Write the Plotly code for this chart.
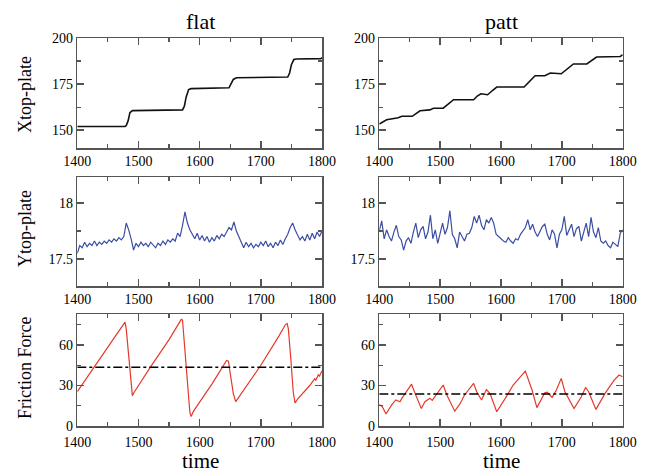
import plotly.graph_objects as go

# ---------------- data ----------------
# flat: X top-plate
flat_x_t = [1400, 1478, 1480, 1483, 1486, 1490, 1572, 1575, 1578, 1582, 1586, 1648, 1651, 1655, 1660,
            1744, 1747, 1750, 1754, 1758, 1798, 1800]
flat_x_v = [152, 152, 152.5, 155, 159.5, 160.6, 161, 163, 168, 172, 172.5, 173, 175, 177.5, 178.4,
            178.8, 181, 185.5, 188.3, 188.6, 188.8, 189.3]

# patt: X top-plate
patt_x_t = [1400, 1406, 1412, 1431, 1437, 1454, 1460, 1467, 1483, 1489, 1505, 1512, 1522, 1555, 1561,
            1567, 1578, 1586, 1593, 1638, 1647, 1656, 1672, 1681, 1699, 1710, 1719, 1741, 1750,
            1757, 1796, 1800]
patt_x_v = [153.3, 154.5, 155.6, 156.7, 157.5, 157.5, 159, 160.5, 161, 161.9, 161.9, 164, 166.5, 166.5,
            168.5, 169.7, 169.2, 171.5, 173.4, 173.4, 176.5, 179.5, 179.5, 181, 180.6, 183.5, 185.9,
            185.9, 188, 189.7, 190, 190.9]

# Y top-plate (sampled every 4 time units)
time_y = list(range(1400, 1801, 4))
flat_y_v = [17.55, 17.62, 17.60, 17.65, 17.61, 17.64, 17.62, 17.66, 17.62, 17.65, 17.63, 17.66, 17.64,
            17.67, 17.65, 17.68, 17.66, 17.69, 17.67, 17.70, 17.82, 17.76, 17.68, 17.58, 17.64, 17.61,
            17.65, 17.62, 17.64, 17.61, 17.65, 17.62, 17.60, 17.64, 17.62, 17.66, 17.63, 17.67, 17.65,
            17.68, 17.66, 17.73, 17.70, 17.80, 17.92, 17.82, 17.76, 17.72, 17.68, 17.73, 17.67, 17.71,
            17.66, 17.70, 17.65, 17.69, 17.66, 17.71, 17.68, 17.72, 17.70, 17.74, 17.78, 17.76, 17.83,
            17.75, 17.70, 17.64, 17.60, 17.65, 17.61, 17.64, 17.60, 17.63, 17.61, 17.65, 17.62, 17.66,
            17.61, 17.64, 17.60, 17.65, 17.62, 17.67, 17.63, 17.68, 17.72, 17.78, 17.82, 17.76, 17.72,
            17.67, 17.70, 17.66, 17.72, 17.67, 17.73, 17.68, 17.74, 17.70, 17.75]
patt_y_v = [17.75, 17.84, 17.68, 17.76, 17.70, 17.66, 17.74, 17.80, 17.70, 17.67, 17.58, 17.66, 17.69,
            17.64, 17.74, 17.82, 17.69, 17.76, 17.79, 17.68, 17.74, 17.89, 17.68, 17.76, 17.64, 17.72,
            17.82, 17.72, 17.78, 17.93, 17.72, 17.68, 17.60, 17.74, 17.70, 17.66, 17.72, 17.73, 17.78,
            17.88, 17.82, 17.89, 17.80, 17.76, 17.85, 17.82, 17.87, 17.82, 17.72, 17.70, 17.68, 17.66,
            17.65, 17.69, 17.66, 17.64, 17.68, 17.67, 17.72, 17.75, 17.78, 17.85, 17.76, 17.81, 17.74,
            17.70, 17.75, 17.79, 17.81, 17.72, 17.67, 17.76, 17.72, 17.60, 17.72, 17.76, 17.88, 17.71,
            17.76, 17.81, 17.70, 17.77, 17.79, 17.66, 17.74, 17.82, 17.70, 17.87, 17.74, 17.69, 17.78,
            17.66, 17.64, 17.66, 17.62, 17.60, 17.65, 17.63, 17.61, 17.73, 17.76]

# Friction force
flat_f_t = [1400, 1440, 1470, 1476, 1478, 1480, 1484, 1488, 1490, 1493, 1520, 1550, 1566, 1570, 1572,
            1575, 1580, 1584, 1586, 1590, 1620, 1640, 1644, 1647, 1650, 1655, 1659, 1662, 1700, 1730,
            1740, 1743, 1745, 1749, 1753, 1756, 1760, 1780, 1788, 1790, 1794, 1796, 1800]
flat_f_v = [25.5, 52, 72, 76.5, 77, 72, 50, 27, 22.5, 25, 44, 64, 76, 79, 78.5,
            60, 30, 10, 7, 11, 31, 45, 48.5, 48, 38, 24, 18, 20, 45, 67,
            75, 76, 72, 50, 25, 17, 20, 30, 35, 34, 38, 37, 41]
flat_f_mean = 43.5

patt_f_t = [1400, 1405, 1411, 1420, 1427, 1434, 1437, 1453, 1459, 1469, 1475, 1483, 1487, 1505, 1511,
            1524, 1533, 1540, 1555, 1560, 1568, 1576, 1582, 1590, 1593, 1607, 1620, 1640, 1651, 1659,
            1667, 1672, 1676, 1684, 1691, 1699, 1705, 1720, 1732, 1739, 1744, 1756, 1771, 1786, 1794,
            1800]
patt_f_v = [16, 14.3, 8.9, 15.5, 19.3, 18, 20.5, 31, 24, 13, 18, 20.5, 19, 30.4, 23,
            11, 16.7, 23, 31.6, 25.4, 19.3, 27, 24, 13, 10.6, 20.5, 30.4, 40.7, 26.7, 13.6,
            20.5, 24.6, 25, 21.2, 26.7, 35.3, 25.4, 13, 21.7, 28.6, 25.4, 12.3, 24.2, 34, 37.8,
            36.5]
patt_f_mean = 23.7

x_ticks = [1400, 1500, 1600, 1700, 1800]

# ---------------- figure ----------------
W, H = 646, 473
FONT = "Liberation Serif, Times New Roman, serif"
BLACK = "#111111"
BLUE = "#3b4ea3"
RED = "#e4392b"

def px_x(a, b):
    return [a / W, b / W]

def px_y(top, bottom):
    return [1 - bottom / H, 1 - top / H]

xdom = [px_x(77.3, 322), px_x(379.3, 622.7)]
ydom = [px_y(38, 148), px_y(177, 286), px_y(314, 426)]

fig = go.Figure()

panels = [
    (0, 0, flat_x_t, flat_x_v, BLACK, 1.6),
    (0, 1, patt_x_t, patt_x_v, BLACK, 1.6),
    (1, 0, time_y, flat_y_v, BLUE, 1.2),
    (1, 1, time_y, patt_y_v, BLUE, 1.2),
    (2, 0, flat_f_t, flat_f_v, RED, 1.2),
    (2, 1, patt_f_t, patt_f_v, RED, 1.2),
]

yranges = [[140.3, 200], [17.26, 18.23], [0, 83]]
ymaj = [[150, 175, 200], [17.5, 18], [0, 30, 60]]
ymin = [dict(tick0=150, dtick=12.5), dict(tick0=17.5, dtick=0.25), dict(tick0=0, dtick=15)]

def axis_style():
    return dict(
        showline=True, mirror="ticks", linecolor="#555555", linewidth=1.5,
        ticks="inside", ticklen=7, tickwidth=1.4, tickcolor="#555555",
        showgrid=False, zeroline=False, automargin=False,
        tickfont=dict(family=FONT, size=14, color="black"),
    )

layout_axes = {}
for i, (r, c, xs, ys, col, lw) in enumerate(panels):
    n = i + 1
    xa = "x" if n == 1 else f"x{n}"
    ya = "y" if n == 1 else f"y{n}"
    fig.add_trace(go.Scatter(x=xs, y=ys, mode="lines", line=dict(color=col, width=lw),
                             xaxis=xa, yaxis=ya, showlegend=False, hoverinfo="skip"))
    if r == 2:
        mean = flat_f_mean if c == 0 else patt_f_mean
        fig.add_trace(go.Scatter(x=[1400, 1800], y=[mean, mean], mode="lines",
                                 line=dict(color="black", width=1.6, dash="dashdot"),
                                 xaxis=xa, yaxis=ya, showlegend=False, hoverinfo="skip"))
    xkey = "xaxis" if n == 1 else f"xaxis{n}"
    ykey = "yaxis" if n == 1 else f"yaxis{n}"
    xs_style = axis_style()
    xs_style.update(domain=xdom[c], anchor=ya, range=[1400, 1800], tickvals=x_ticks,
                    minor=dict(ticks="inside", ticklen=4, tickwidth=1.2, tickcolor="#555555",
                               tick0=1400, dtick=50, showgrid=False))
    if r == 2:
        xs_style.update(ticklabelstandoff=3)
    ys_style = axis_style()
    mn = dict(ticks="inside", ticklen=4, tickwidth=1.2, tickcolor="#555555", showgrid=False)
    mn.update(ymin[r])
    ys_style.update(domain=ydom[r], anchor=xa, range=yranges[r], tickvals=ymaj[r], minor=mn)
    layout_axes[xkey] = xs_style
    layout_axes[ykey] = ys_style

ann = []
for txt, x in [("flat", 200), ("patt", 501)]:
    ann.append(dict(text=txt, x=x / W, y=1 - 22 / H, xref="paper", yref="paper",
                    showarrow=False, font=dict(family=FONT, size=22, color="black"),
                    xanchor="center", yanchor="middle"))
for x in [200, 501]:
    ann.append(dict(text="time", x=x / W, y=1 - 461 / H, xref="paper", yref="paper",
                    showarrow=False, font=dict(family=FONT, size=21, color="black"),
                    xanchor="center", yanchor="middle"))
for txt, y in [("Xtop-plate", 95), ("Ytop-plate", 229), ("Friction Force", 368)]:
    ann.append(dict(text=txt, x=25 / W, y=1 - y / H, xref="paper", yref="paper",
                    showarrow=False, textangle=-90,
                    font=dict(family=FONT, size=18, color="black"),
                    xanchor="center", yanchor="middle"))

fig.update_layout(
    width=W, height=H,
    margin=dict(l=0, r=0, t=0, b=0, autoexpand=False),
    paper_bgcolor="white", plot_bgcolor="white",
    annotations=ann,
    font=dict(family=FONT, color="black"),
    hovermode=False,
    **layout_axes,
)

fig.write_html("out.html",
               config={"displayModeBar": False, "staticPlot": True},
               post_script="document.body.style.margin='0px';document.body.style.overflow='hidden';")
